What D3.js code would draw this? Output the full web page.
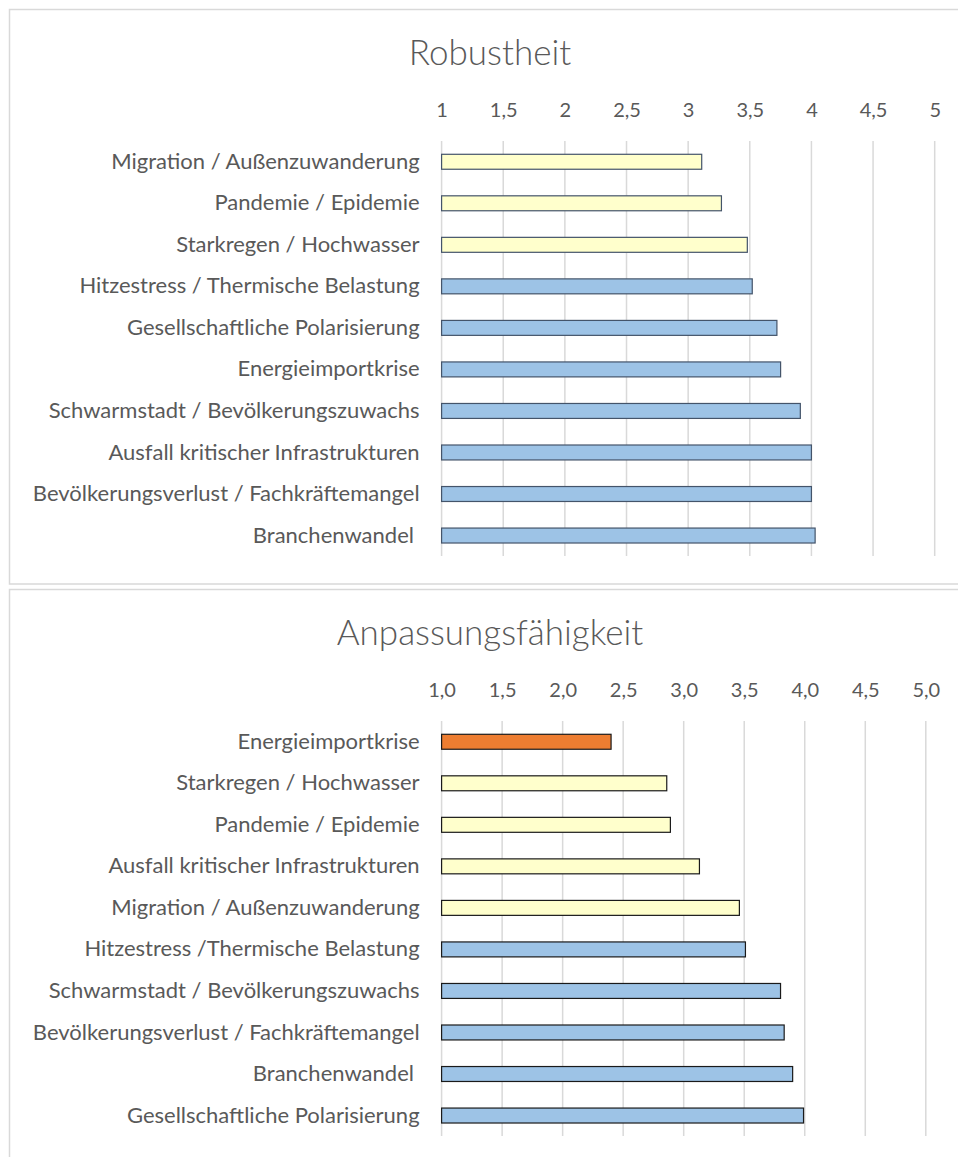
<!DOCTYPE html>
<html>
<head>
<meta charset="utf-8">
<script src="https://cdn.jsdelivr.net/npm/d3@7"></script>
<style>
  body { margin: 0; background: #fff; }
  text { font-family: Lato, "Open Sans", sans-serif; fill: #595959; white-space: pre; }
</style>
</head>
<body>
<div id="chart"></div>
<script>
// Robustheit
const robustCats = [
  "Migration / Außenzuwanderung",
  "Pandemie / Epidemie",
  "Starkregen / Hochwasser",
  "Hitzestress / Thermische Belastung",
  "Gesellschaftliche Polarisierung",
  "Energieimportkrise",
  "Schwarmstadt / Bevölkerungszuwachs",
  "Ausfall kritischer Infrastrukturen",
  "Bevölkerungsverlust / Fachkräftemangel",
  "Branchenwandel "
];
const robustValues = [3.11, 3.27, 3.48, 3.52, 3.72, 3.75, 3.91, 4.0, 4.0, 4.03];
const robustTicks = ["1", "1,5", "2", "2,5", "3", "3,5", "4", "4,5", "5"];

// Anpassungsfähigkeit
const adaptCats = [
  "Energieimportkrise",
  "Starkregen / Hochwasser",
  "Pandemie / Epidemie",
  "Ausfall kritischer Infrastrukturen",
  "Migration / Außenzuwanderung",
  "Hitzestress /Thermische Belastung",
  "Schwarmstadt / Bevölkerungszuwachs",
  "Bevölkerungsverlust / Fachkräftemangel",
  "Branchenwandel ",
  "Gesellschaftliche Polarisierung"
];
const adaptValues = [2.40, 2.86, 2.89, 3.13, 3.46, 3.51, 3.80, 3.83, 3.90, 3.99];
const adaptTicks = ["1,0", "1,5", "2,0", "2,5", "3,0", "3,5", "4,0", "4,5", "5,0"];

const tickValues = [1, 1.5, 2, 2.5, 3, 3.5, 4, 4.5, 5];

const W = 958, H = 1157;
const svg = d3.select("#chart").append("svg")
  .attr("width", W).attr("height", H);

// bar colour by value range
const color = d3.scaleThreshold()
  .domain([2.5, 3.5])
  .range(["#ED7D31", "#FFFFCC", "#9DC3E6"]);

function drawChart(top, title, cats, values, tickLabels, xRight, barStroke) {
  const g = svg.append("g").attr("transform", "translate(0," + top + ")");

  // chart frame
  g.append("rect")
    .attr("x", 9.5).attr("y", 9.5)
    .attr("width", 980).attr("height", 574.5)
    .attr("fill", "none")
    .attr("stroke", "#d9d9d9")
    .attr("stroke-width", 1.5);

  g.append("text")
    .attr("x", 490).attr("y", 65)
    .attr("text-anchor", "middle")
    .style("font-size", "35px")
    .style("font-weight", 300)
    .text(title);

  const x = d3.scaleLinear().domain([1, 5]).range([441.6, xRight]);
  const y = d3.scaleBand().domain(cats).range([141, 556.3])
    .paddingInner(0.64).paddingOuter(0.32);

  // vertical gridlines
  g.append("g").selectAll("line")
    .data(tickValues).enter().append("line")
    .attr("x1", d => x(d)).attr("x2", d => x(d))
    .attr("y1", 141).attr("y2", 556)
    .attr("stroke", "#d9d9d9")
    .attr("stroke-width", 1.5);

  // top axis labels
  const xAxis = d3.axisTop(x)
    .tickValues(tickValues)
    .tickSize(0)
    .tickPadding(0)
    .tickFormat((d, i) => tickLabels[i]);
  const ax = g.append("g").attr("transform", "translate(0,117)").call(xAxis);
  ax.select(".domain").remove();
  ax.selectAll("text")
    .attr("dy", 0)
    .style("font-size", "20px")
    .style("font-family", "Lato, sans-serif")
    .attr("fill", "#595959");

  // category labels
  const yAxis = d3.axisLeft(y).tickSize(0).tickPadding(22);
  const ay = g.append("g").attr("transform", "translate(441.6,0)").call(yAxis);
  ay.select(".domain").remove();
  ay.selectAll("text")
    .style("font-size", "22px")
    .style("font-family", "Lato, sans-serif")
    .attr("fill", "#595959");

  g.append("g").selectAll("rect")
    .data(values).enter().append("rect")
    .attr("x", x(1))
    .attr("y", (d, i) => y(cats[i]))
    .attr("width", d => x(d) - x(1))
    .attr("height", y.bandwidth())
    .attr("fill", d => color(d))
    .attr("stroke", barStroke)
    .attr("stroke-width", 1.2);
}

drawChart(0, "Robustheit", robustCats, robustValues, robustTicks, 934.7, "#44546A");
drawChart(580, "Anpassungsfähigkeit", adaptCats, adaptValues, adaptTicks, 925.8, "#1a1a1a");
</script>
</body>
</html>
